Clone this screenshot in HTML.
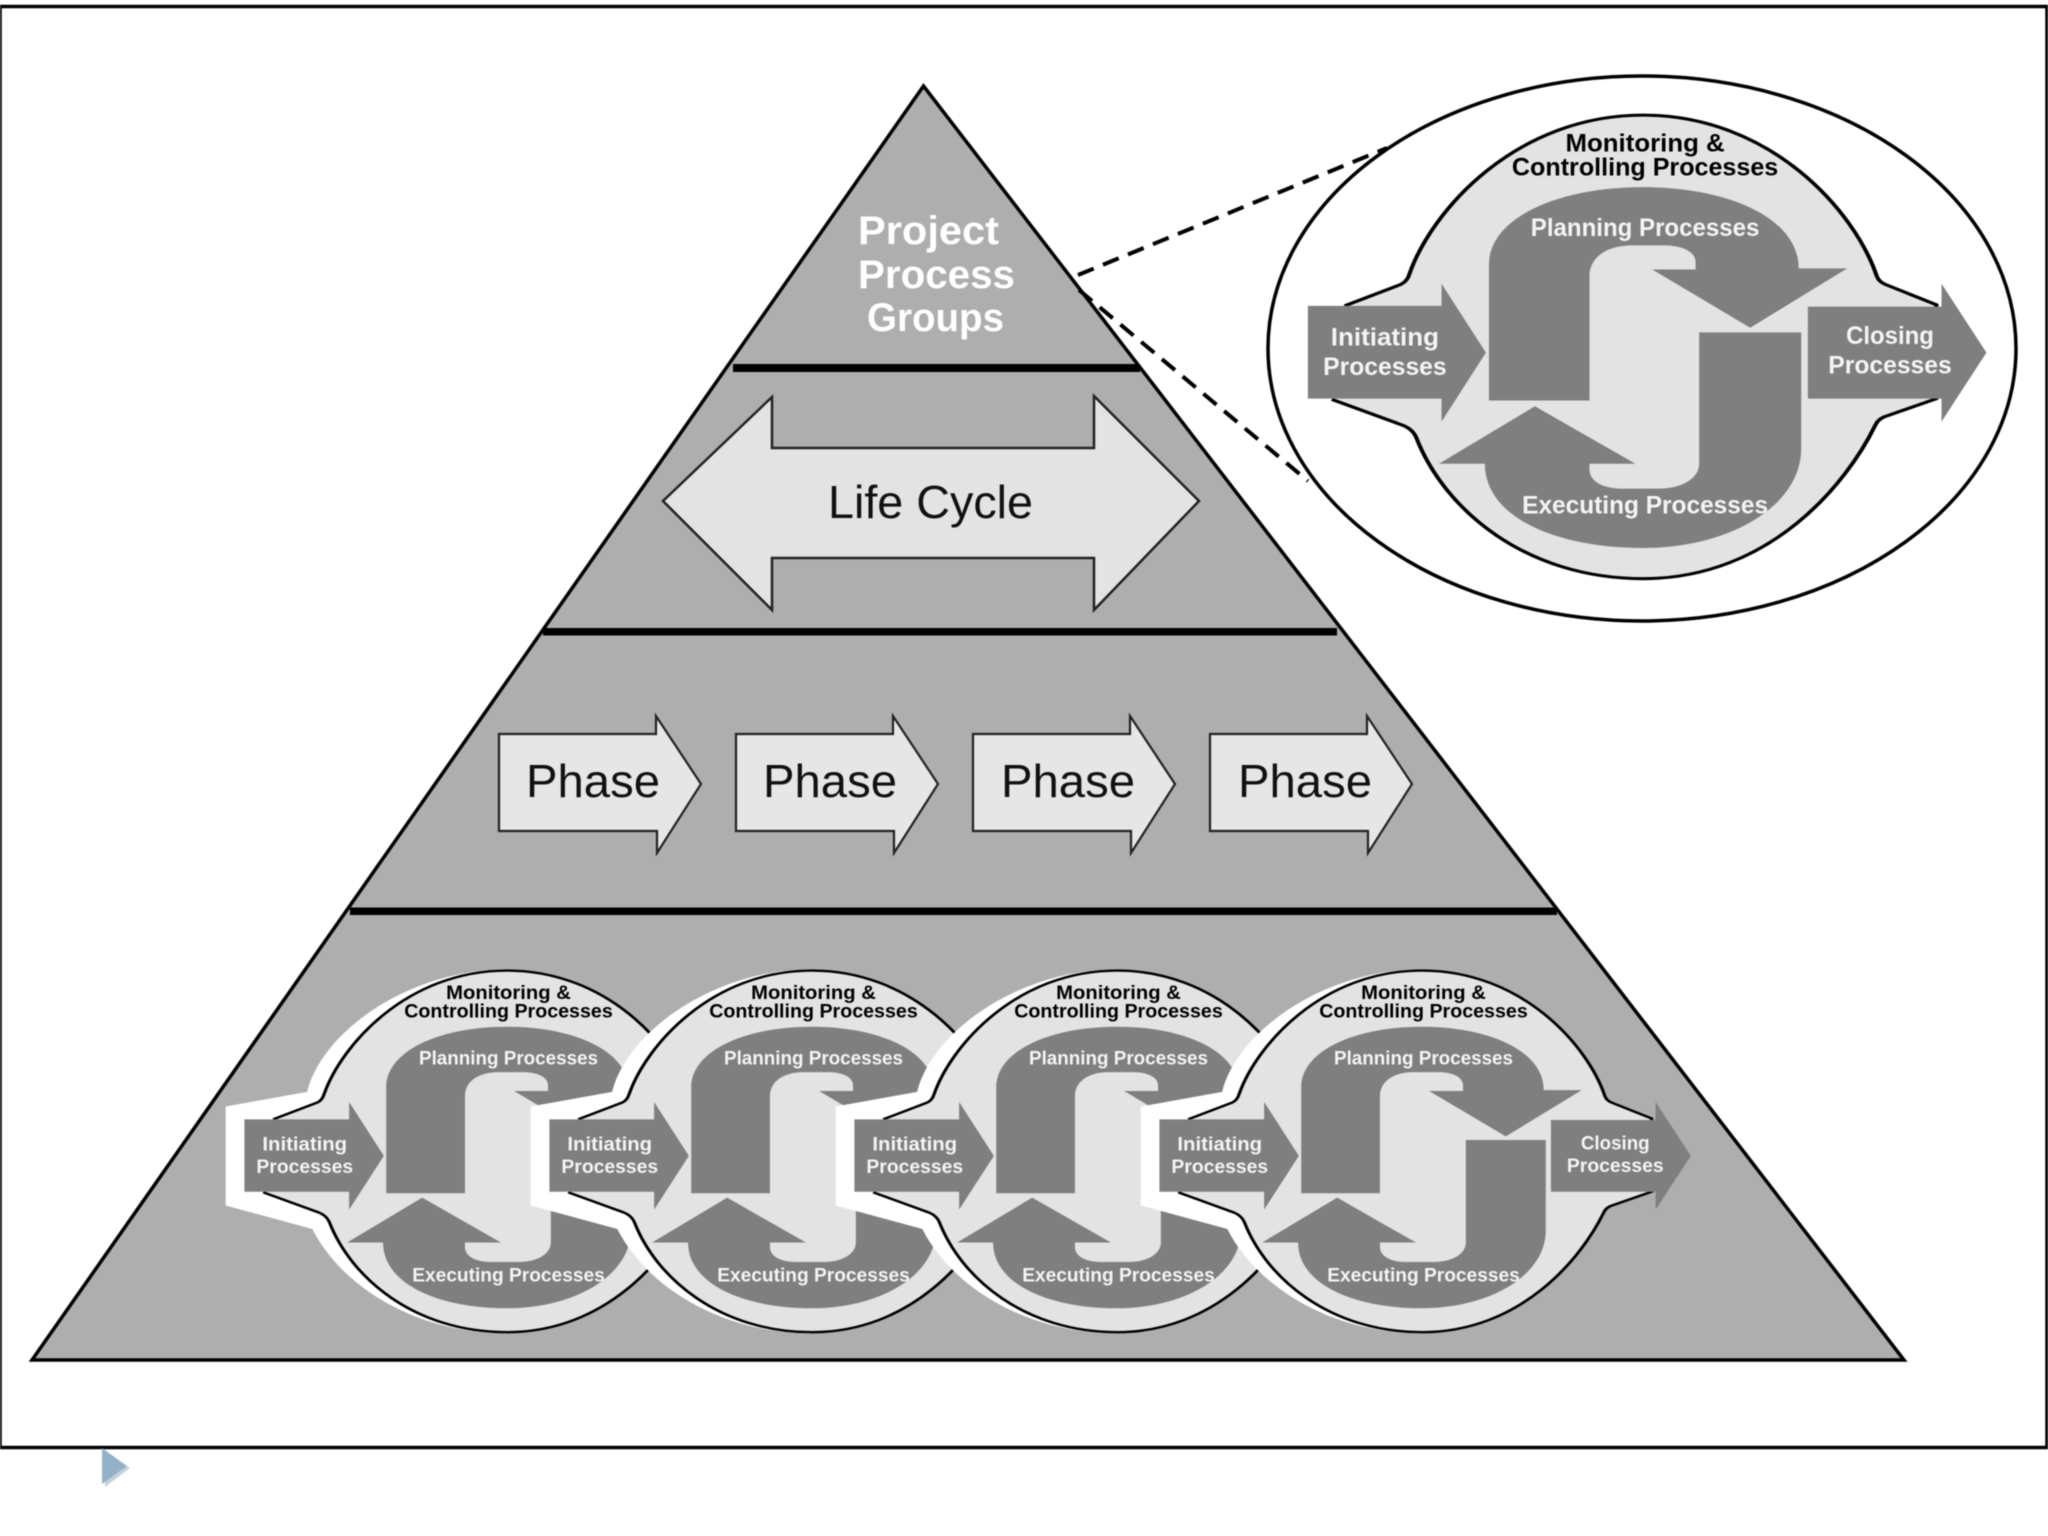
<!DOCTYPE html>
<html><head><meta charset="utf-8"><title>Project Process Groups</title>
<style>
html,body{margin:0;padding:0;background:#fff;width:2048px;height:1536px;overflow:hidden}
svg{display:block;filter:blur(0.55px)}
text{font-family:"Liberation Sans",sans-serif}
.b{fill:#e3e3e3;stroke:#000;stroke-width:8}
.d{fill:#7f7f7f}
.w{fill:#f4f4f4;font-weight:bold;font-size:64px}
.k{fill:#000;font-weight:bold;font-size:64px}
.h{fill:#fff}
</style></head><body>
<svg width="2048" height="1536" viewBox="0 0 2048 1536" xmlns="http://www.w3.org/2000/svg">
<rect x="0" y="0" width="2048" height="1536" fill="#fff"/>
<rect x="0" y="6.5" width="2047" height="1441" fill="#fff" stroke="#000" stroke-width="3.5"/>
<polygon points="105,1452 130,1468 105,1487" fill="#c4d2dc"/>
<polygon points="102,1448 127,1466 102,1484" fill="#93b2c9"/>

<polygon points="923.5,86 32,1360 1904,1360" fill="#aeaeae" stroke="#000" stroke-width="3.5" stroke-linejoin="miter"/>
<rect x="733" y="364" width="407" height="8" fill="#000"/>
<rect x="543" y="628" width="794" height="7.5" fill="#000"/>
<rect x="350" y="907.5" width="1207" height="7.5" fill="#000"/>

<text x="858" y="244" fill="#fff" font-weight="bold" font-size="40" textLength="141" lengthAdjust="spacingAndGlyphs">Project</text>
<text x="858" y="288" fill="#fff" font-weight="bold" font-size="40" textLength="157" lengthAdjust="spacingAndGlyphs">Process</text>
<text x="867" y="331" fill="#fff" font-weight="bold" font-size="40" textLength="137" lengthAdjust="spacingAndGlyphs">Groups</text>

<polygon points="663,501 772,397 772,448 1094,448 1094,396 1199,501 1094,610 1094,558 772,558 772,610" fill="#e3e3e3" stroke="#222" stroke-width="2.5"/>
<text x="828" y="518" fill="#111" font-size="46" textLength="205" lengthAdjust="spacingAndGlyphs">Life Cycle</text>

<g id="phases">
<polygon points="499,734 656,734 656,716 701,784 657,853 657,831 499,831" fill="#e6e6e6" stroke="#222" stroke-width="2.2"/>
<text x="526" y="797" fill="#111" font-size="46" textLength="134" lengthAdjust="spacingAndGlyphs">Phase</text>
<polygon points="736,734 893,734 893,716 938,784 894,853 894,831 736,831" fill="#e6e6e6" stroke="#222" stroke-width="2.2"/>
<text x="763" y="797" fill="#111" font-size="46" textLength="134" lengthAdjust="spacingAndGlyphs">Phase</text>
<polygon points="973,734 1130,734 1130,716 1175,784 1131,853 1131,831 973,831" fill="#e6e6e6" stroke="#222" stroke-width="2.2"/>
<text x="1001" y="797" fill="#111" font-size="46" textLength="134" lengthAdjust="spacingAndGlyphs">Phase</text>
<polygon points="1210,734 1367,734 1367,716 1412,784 1368,853 1368,831 1210,831" fill="#e6e6e6" stroke="#222" stroke-width="2.2"/>
<text x="1238" y="797" fill="#111" font-size="46" textLength="134" lengthAdjust="spacingAndGlyphs">Phase</text>
</g>

<!-- small symbol 1 -->
<g transform="matrix(.3995 0 0 .2989 191.3 919.7)">
<path class="h" d="M86,625 L290,576 C325,380 540,166 790,166 L790,1384 C560,1384 375,1225 303,1035 L86,956 Z"/>
<path class="b" d="M205,668 L315,612 Q328,604 332,585 C375,420 540,170 790,170 C1040,170 1205,420 1248,590 Q1252,605 1265,612 L1365,665 L1365,910 L1262,958 Q1250,965 1245,980 C1190,1130 1040,1380 790,1380 C560,1380 400,1200 345,1010 Q338,990 320,980 L180,912"/>
<path class="d" d="M488,915 L488,560 C488,440 620,358 790,358 C960,358 1095,440 1095,570 L1190,570 L1000,725 L808,573 L893,573 L893,555 C893,525 865,510 830,510 L770,510 C715,510 685,545 685,590 L685,915 Z"/>
<path class="d" d="M900,737 L1100,737 L1100,1040 C1100,1190 960,1300 790,1300 C620,1300 480,1220 480,1080 L390,1080 L578,930 L775,1080 L685,1080 L685,1095 C685,1125 710,1145 750,1145 L820,1145 C870,1145 900,1115 900,1080 Z"/>
<polygon class="d" points="133,668 395,668 395,610 482,790 395,970 395,910 133,910"/>
<text class="k" x="638" y="265" textLength="312" lengthAdjust="spacingAndGlyphs">Monitoring &amp;</text>
<text class="k" x="533" y="327" textLength="522" lengthAdjust="spacingAndGlyphs">Controlling Processes</text>
<text class="w" x="570" y="485" textLength="448" lengthAdjust="spacingAndGlyphs">Planning Processes</text>
<text class="w" x="553" y="1210" textLength="482" lengthAdjust="spacingAndGlyphs">Executing Processes</text>
<text class="w" x="178" y="772" textLength="212" lengthAdjust="spacingAndGlyphs">Initiating</text>
<text class="w" x="163" y="848" textLength="242" lengthAdjust="spacingAndGlyphs">Processes</text>
</g>
<!-- small symbol 2 -->
<g transform="matrix(.3995 0 0 .2989 496.3 919.7)">
<path class="h" d="M86,625 L290,576 C325,380 540,166 790,166 L790,1384 C560,1384 375,1225 303,1035 L86,956 Z"/>
<path class="b" d="M205,668 L315,612 Q328,604 332,585 C375,420 540,170 790,170 C1040,170 1205,420 1248,590 Q1252,605 1265,612 L1365,665 L1365,910 L1262,958 Q1250,965 1245,980 C1190,1130 1040,1380 790,1380 C560,1380 400,1200 345,1010 Q338,990 320,980 L180,912"/>
<path class="d" d="M488,915 L488,560 C488,440 620,358 790,358 C960,358 1095,440 1095,570 L1190,570 L1000,725 L808,573 L893,573 L893,555 C893,525 865,510 830,510 L770,510 C715,510 685,545 685,590 L685,915 Z"/>
<path class="d" d="M900,737 L1100,737 L1100,1040 C1100,1190 960,1300 790,1300 C620,1300 480,1220 480,1080 L390,1080 L578,930 L775,1080 L685,1080 L685,1095 C685,1125 710,1145 750,1145 L820,1145 C870,1145 900,1115 900,1080 Z"/>
<polygon class="d" points="133,668 395,668 395,610 482,790 395,970 395,910 133,910"/>
<text class="k" x="638" y="265" textLength="312" lengthAdjust="spacingAndGlyphs">Monitoring &amp;</text>
<text class="k" x="533" y="327" textLength="522" lengthAdjust="spacingAndGlyphs">Controlling Processes</text>
<text class="w" x="570" y="485" textLength="448" lengthAdjust="spacingAndGlyphs">Planning Processes</text>
<text class="w" x="553" y="1210" textLength="482" lengthAdjust="spacingAndGlyphs">Executing Processes</text>
<text class="w" x="178" y="772" textLength="212" lengthAdjust="spacingAndGlyphs">Initiating</text>
<text class="w" x="163" y="848" textLength="242" lengthAdjust="spacingAndGlyphs">Processes</text>
</g>
<!-- small symbol 3 -->
<g transform="matrix(.3995 0 0 .2989 801.3 919.7)">
<path class="h" d="M86,625 L290,576 C325,380 540,166 790,166 L790,1384 C560,1384 375,1225 303,1035 L86,956 Z"/>
<path class="b" d="M205,668 L315,612 Q328,604 332,585 C375,420 540,170 790,170 C1040,170 1205,420 1248,590 Q1252,605 1265,612 L1365,665 L1365,910 L1262,958 Q1250,965 1245,980 C1190,1130 1040,1380 790,1380 C560,1380 400,1200 345,1010 Q338,990 320,980 L180,912"/>
<path class="d" d="M488,915 L488,560 C488,440 620,358 790,358 C960,358 1095,440 1095,570 L1190,570 L1000,725 L808,573 L893,573 L893,555 C893,525 865,510 830,510 L770,510 C715,510 685,545 685,590 L685,915 Z"/>
<path class="d" d="M900,737 L1100,737 L1100,1040 C1100,1190 960,1300 790,1300 C620,1300 480,1220 480,1080 L390,1080 L578,930 L775,1080 L685,1080 L685,1095 C685,1125 710,1145 750,1145 L820,1145 C870,1145 900,1115 900,1080 Z"/>
<polygon class="d" points="133,668 395,668 395,610 482,790 395,970 395,910 133,910"/>
<text class="k" x="638" y="265" textLength="312" lengthAdjust="spacingAndGlyphs">Monitoring &amp;</text>
<text class="k" x="533" y="327" textLength="522" lengthAdjust="spacingAndGlyphs">Controlling Processes</text>
<text class="w" x="570" y="485" textLength="448" lengthAdjust="spacingAndGlyphs">Planning Processes</text>
<text class="w" x="553" y="1210" textLength="482" lengthAdjust="spacingAndGlyphs">Executing Processes</text>
<text class="w" x="178" y="772" textLength="212" lengthAdjust="spacingAndGlyphs">Initiating</text>
<text class="w" x="163" y="848" textLength="242" lengthAdjust="spacingAndGlyphs">Processes</text>
</g>
<!-- small symbol 4 -->
<g transform="matrix(.3995 0 0 .2989 1106.3 919.7)">
<path class="h" d="M86,625 L290,576 C325,380 540,166 790,166 L790,1384 C560,1384 375,1225 303,1035 L86,956 Z"/>
<path class="b" d="M205,668 L315,612 Q328,604 332,585 C375,420 540,170 790,170 C1040,170 1205,420 1248,590 Q1252,605 1265,612 L1365,665 L1365,910 L1262,958 Q1250,965 1245,980 C1190,1130 1040,1380 790,1380 C560,1380 400,1200 345,1010 Q338,990 320,980 L180,912"/>
<path class="d" d="M488,915 L488,560 C488,440 620,358 790,358 C960,358 1095,440 1095,570 L1190,570 L1000,725 L808,573 L893,573 L893,555 C893,525 865,510 830,510 L770,510 C715,510 685,545 685,590 L685,915 Z"/>
<path class="d" d="M900,737 L1100,737 L1100,1040 C1100,1190 960,1300 790,1300 C620,1300 480,1220 480,1080 L390,1080 L578,930 L775,1080 L685,1080 L685,1095 C685,1125 710,1145 750,1145 L820,1145 C870,1145 900,1115 900,1080 Z"/>
<polygon class="d" points="133,668 395,668 395,610 482,790 395,970 395,910 133,910"/>
<polygon class="d" points="1113,670 1375,670 1375,610 1463,790 1375,970 1375,910 1113,910"/>
<text class="k" x="638" y="265" textLength="312" lengthAdjust="spacingAndGlyphs">Monitoring &amp;</text>
<text class="k" x="533" y="327" textLength="522" lengthAdjust="spacingAndGlyphs">Controlling Processes</text>
<text class="w" x="570" y="485" textLength="448" lengthAdjust="spacingAndGlyphs">Planning Processes</text>
<text class="w" x="553" y="1210" textLength="482" lengthAdjust="spacingAndGlyphs">Executing Processes</text>
<text class="w" x="178" y="772" textLength="212" lengthAdjust="spacingAndGlyphs">Initiating</text>
<text class="w" x="163" y="848" textLength="242" lengthAdjust="spacingAndGlyphs">Processes</text>
<text class="w" x="1188" y="768" textLength="172" lengthAdjust="spacingAndGlyphs">Closing</text>
<text class="w" x="1153" y="844" textLength="242" lengthAdjust="spacingAndGlyphs">Processes</text>
</g>

<!-- callout -->
<ellipse cx="1642" cy="348.5" rx="374" ry="272.5" fill="#fff" stroke="#000" stroke-width="3.5"/>
<line x1="1078" y1="275" x2="1387" y2="148" stroke="#000" stroke-width="4" stroke-dasharray="17 10"/>
<line x1="1079" y1="290" x2="1308" y2="481" stroke="#000" stroke-width="4" stroke-dasharray="17 10"/>
<g transform="matrix(.5102 0 0 .3831 1240 50)">
<path class="b" d="M205,668 L315,612 Q328,604 332,585 C375,420 540,170 790,170 C1040,170 1205,420 1248,590 Q1252,605 1265,612 L1365,665 L1365,910 L1262,958 Q1250,965 1245,980 C1190,1130 1040,1380 790,1380 C560,1380 400,1200 345,1010 Q338,990 320,980 L180,912"/>
<path class="d" d="M488,915 L488,560 C488,440 620,358 790,358 C960,358 1095,440 1095,570 L1190,570 L1000,725 L808,573 L893,573 L893,555 C893,525 865,510 830,510 L770,510 C715,510 685,545 685,590 L685,915 Z"/>
<path class="d" d="M900,737 L1100,737 L1100,1040 C1100,1190 960,1300 790,1300 C620,1300 480,1220 480,1080 L390,1080 L578,930 L775,1080 L685,1080 L685,1095 C685,1125 710,1145 750,1145 L820,1145 C870,1145 900,1115 900,1080 Z"/>
<polygon class="d" points="133,668 395,668 395,610 482,790 395,970 395,910 133,910"/>
<polygon class="d" points="1113,670 1375,670 1375,610 1463,790 1375,970 1375,910 1113,910"/>
<text class="k" x="638" y="265" textLength="312" lengthAdjust="spacingAndGlyphs">Monitoring &amp;</text>
<text class="k" x="533" y="327" textLength="522" lengthAdjust="spacingAndGlyphs">Controlling Processes</text>
<text class="w" x="570" y="485" textLength="448" lengthAdjust="spacingAndGlyphs">Planning Processes</text>
<text class="w" x="553" y="1210" textLength="482" lengthAdjust="spacingAndGlyphs">Executing Processes</text>
<text class="w" x="178" y="772" textLength="212" lengthAdjust="spacingAndGlyphs">Initiating</text>
<text class="w" x="163" y="848" textLength="242" lengthAdjust="spacingAndGlyphs">Processes</text>
<text class="w" x="1188" y="768" textLength="172" lengthAdjust="spacingAndGlyphs">Closing</text>
<text class="w" x="1153" y="844" textLength="242" lengthAdjust="spacingAndGlyphs">Processes</text>
</g>
</svg>
</body></html>
